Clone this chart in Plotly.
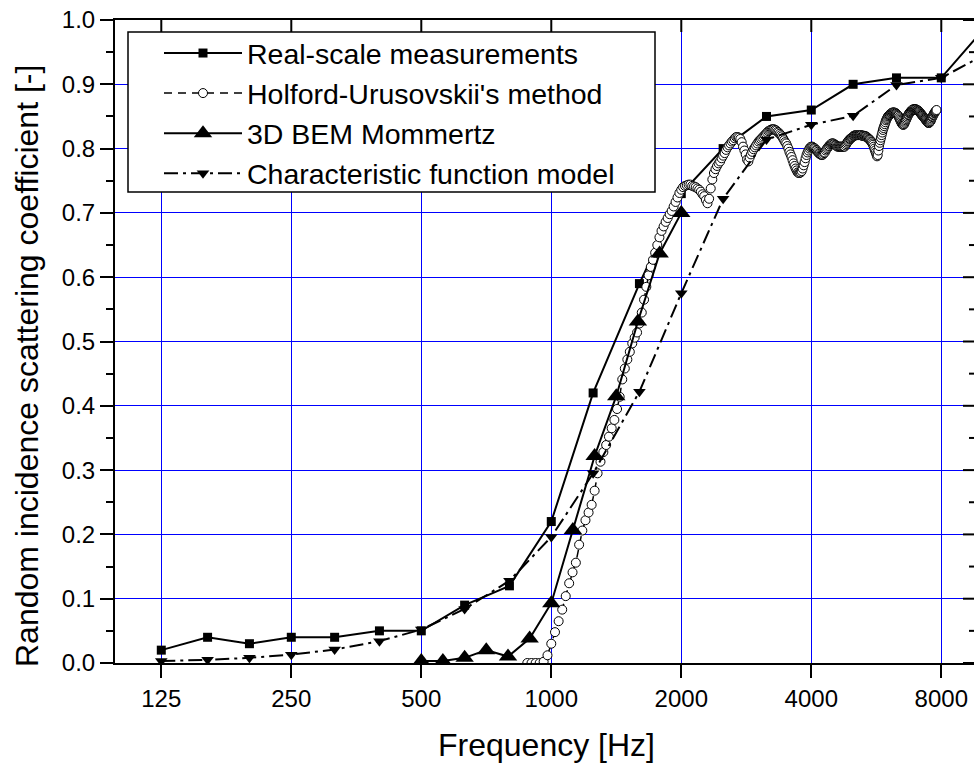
import math
import plotly.graph_objects as go

# ---------------- data ----------------
third_oct_freq = [125, 160, 200, 250, 315, 400, 500, 630, 800, 1000, 1250, 1600,
                  2000, 2500, 3150, 4000, 5000, 6300, 8000, 10000]
real_scale = [0.02, 0.04, 0.03, 0.04, 0.04, 0.05, 0.05, 0.09, 0.12, 0.22, 0.42, 0.59,
              0.73, 0.80, 0.85, 0.86, 0.90, 0.91, 0.91, 0.985]
char_model = [0.003, 0.005, 0.008, 0.013, 0.021, 0.034, 0.052, 0.084, 0.128, 0.196, 0.295, 0.422,
              0.575, 0.722, 0.814, 0.837, 0.851, 0.899, 0.91, 0.945]

bem_freq = [500, 561, 630, 707, 794, 891, 1000, 1122, 1260, 1414, 1587, 1782, 2000]
bem_vals = [0.003, 0.003, 0.008, 0.02, 0.01, 0.038, 0.093, 0.207, 0.322, 0.415, 0.531, 0.637, 0.70]

holford_freq = list(range(880, 7820, 20))
holford_vals = [
    0.000, 0.000, 0.000, 0.000, 0.002, 0.012, 0.030, 0.048, 0.065, 0.083,
    0.104, 0.124, 0.141, 0.156, 0.184, 0.206, 0.222, 0.234, 0.246, 0.268,
    0.295, 0.313, 0.328, 0.339, 0.352, 0.365, 0.378, 0.395, 0.414, 0.441,
    0.458, 0.472, 0.484, 0.497, 0.506, 0.514, 0.528, 0.545, 0.565, 0.585,
    0.603, 0.616, 0.627, 0.638, 0.650, 0.662, 0.672, 0.679, 0.686, 0.692,
    0.698, 0.703, 0.710, 0.717, 0.724, 0.731, 0.736, 0.740, 0.742, 0.743,
    0.744, 0.744, 0.742, 0.741, 0.740, 0.738, 0.736, 0.733, 0.729, 0.726,
    0.720, 0.715, 0.722, 0.738, 0.752, 0.762, 0.768, 0.773, 0.777, 0.780,
    0.785, 0.789, 0.793, 0.798, 0.802, 0.805, 0.808, 0.811, 0.813, 0.816,
    0.818, 0.818, 0.817, 0.815, 0.810, 0.803, 0.797, 0.791, 0.783, 0.780,
    0.786, 0.791, 0.795, 0.799, 0.802, 0.805, 0.808, 0.811, 0.813, 0.815,
    0.817, 0.819, 0.821, 0.823, 0.825, 0.827, 0.828, 0.829, 0.830, 0.830,
    0.830, 0.829, 0.828, 0.826, 0.825, 0.823, 0.821, 0.819, 0.816, 0.813,
    0.810, 0.808, 0.804, 0.800, 0.795, 0.791, 0.787, 0.782, 0.777, 0.773,
    0.769, 0.766, 0.763, 0.762, 0.762, 0.763, 0.765, 0.769, 0.774, 0.779,
    0.785, 0.790, 0.794, 0.797, 0.800, 0.802, 0.803, 0.803, 0.802, 0.801,
    0.800, 0.798, 0.797, 0.795, 0.793, 0.792, 0.791, 0.790, 0.790, 0.791,
    0.793, 0.794, 0.797, 0.799, 0.801, 0.803, 0.804, 0.806, 0.807, 0.808,
    0.808, 0.808, 0.807, 0.806, 0.805, 0.804, 0.803, 0.803, 0.803, 0.803,
    0.803, 0.803, 0.803, 0.803, 0.803, 0.803, 0.805, 0.807, 0.809, 0.811,
    0.812, 0.814, 0.815, 0.816, 0.817, 0.818, 0.819, 0.820, 0.820, 0.821,
    0.821, 0.821, 0.821, 0.821, 0.821, 0.821, 0.821, 0.821, 0.820, 0.820,
    0.820, 0.820, 0.819, 0.819, 0.819, 0.818, 0.817, 0.816, 0.815, 0.814,
    0.813, 0.811, 0.810, 0.808, 0.806, 0.803, 0.800, 0.797, 0.794, 0.791,
    0.788, 0.790, 0.797, 0.804, 0.809, 0.813, 0.817, 0.821, 0.825, 0.829,
    0.832, 0.835, 0.838, 0.841, 0.844, 0.846, 0.848, 0.850, 0.851, 0.852,
    0.853, 0.854, 0.855, 0.855, 0.856, 0.856, 0.856, 0.856, 0.856, 0.855,
    0.855, 0.854, 0.853, 0.852, 0.851, 0.849, 0.847, 0.845, 0.843, 0.841,
    0.839, 0.838, 0.837, 0.837, 0.838, 0.840, 0.842, 0.844, 0.846, 0.848,
    0.850, 0.852, 0.853, 0.855, 0.856, 0.857, 0.858, 0.859, 0.860, 0.860,
    0.861, 0.861, 0.861, 0.861, 0.861, 0.861, 0.861, 0.860, 0.860, 0.859,
    0.859, 0.858, 0.857, 0.856, 0.855, 0.854, 0.853, 0.852, 0.851, 0.850,
    0.849, 0.848, 0.847, 0.846, 0.845, 0.844, 0.843, 0.842, 0.841, 0.840,
    0.840, 0.840, 0.841, 0.842, 0.843, 0.845, 0.847, 0.849, 0.850, 0.852,
    0.853, 0.855, 0.856, 0.857, 0.858, 0.859, 0.860,
]
n_h = min(len(holford_freq), len(holford_vals))
holford_freq = holford_freq[:n_h]
holford_vals = holford_vals[:n_h]

x_tick_vals = [125, 250, 500, 1000, 2000, 4000, 8000]
x_tick_text = ["125", "250", "500", "1000", "2000", "4000", "8000"]
y_major = [round(0.1 * i, 2) for i in range(11)]
y_minor = [round(0.05 + 0.1 * i, 2) for i in range(10)]
x_range_hz = [97.66, 9525]

# ---------------- figure ----------------
FONT = "Liberation Sans, Arial, Helvetica, sans-serif"
W, H = 974, 769
PL, PT, PR, PB = 115, 20, 974, 663          # plot area in pixels
ML, MT, MR, MB = PL, PT, W - PR, H - PB
PW, PH = PR - PL, PB - PT
xr = [math.log10(x_range_hz[0]), math.log10(x_range_hz[1])]


def px(xpix):
    return (xpix - PL) / PW


def py(ypix):
    return (PB - ypix) / PH


fig = go.Figure()
fig.add_trace(go.Scatter(
    x=third_oct_freq, y=real_scale, name="Real-scale measurements",
    mode="lines+markers",
    line=dict(color="black", width=2),
    marker=dict(symbol="square", size=9, color="black"),
))
fig.add_trace(go.Scatter(
    x=holford_freq, y=holford_vals, name="Holford-Urusovskii's method",
    mode="lines+markers",
    line=dict(color="black", width=1.5, dash="8px,6px"),
    marker=dict(symbol="circle", size=9, color="white",
                line=dict(color="black", width=1)),
))
fig.add_trace(go.Scatter(
    x=bem_freq, y=bem_vals, name="3D BEM Mommertz",
    mode="lines+markers",
    line=dict(color="black", width=2),
    marker=dict(symbol="triangle-up", size=16, color="black"),
))
fig.add_trace(go.Scatter(
    x=third_oct_freq, y=char_model, name="Characteristic function model",
    mode="lines+markers",
    line=dict(color="black", width=2, dash="14px,5px,3px,5px"),
    marker=dict(symbol="triangle-down", size=11, color="black"),
))

shapes = []
# legend frame (opaque white box with black border)
shapes.append(dict(type="rect", xref="paper", yref="paper", layer="above",
                   x0=px(128), x1=px(655), y0=py(192), y1=py(32),
                   fillcolor="white", line=dict(color="black", width=1.5)))
# inward ticks on the top frame line
for f in x_tick_vals:
    shapes.append(dict(type="line", xref="x", yref="paper", layer="above",
                       x0=f, x1=f, y0=1, y1=1 - 12 / PH,
                       line=dict(color="black", width=2)))
# inward ticks on the right side
for v in y_major:
    shapes.append(dict(type="line", xref="paper", yref="y", layer="above",
                       x0=1, x1=1 - 11 / PW, y0=v, y1=v,
                       line=dict(color="black", width=2)))
for v in y_minor:
    shapes.append(dict(type="line", xref="paper", yref="y", layer="above",
                       x0=1, x1=1 - 5 / PW, y0=v, y1=v,
                       line=dict(color="black", width=2)))

fig.update_layout(
    template="none",
    width=W, height=H,
    margin=dict(l=ML, r=MR, t=MT, b=MB, autoexpand=False),
    paper_bgcolor="white", plot_bgcolor="white",
    font=dict(family=FONT, color="black", size=24),
    showlegend=True,
    legend=dict(
        x=px(159), y=py(28), xanchor="left", yanchor="top",
        bgcolor="rgba(0,0,0,0)", borderwidth=0,
        font=dict(family=FONT, size=28.5, color="black"),
        itemwidth=78, tracegroupgap=0,
    ),
    xaxis=dict(
        type="log", range=xr, automargin=False,
        tickvals=x_tick_vals, ticktext=x_tick_text,
        ticks="outside", ticklen=13, tickwidth=2, tickcolor="black",
        ticklabeloverflow="allow",
        showline=True, linecolor="black", linewidth=2, mirror=True,
        showgrid=True, gridcolor="#0000ff", gridwidth=1,
        zeroline=False, tickfont=dict(size=24, color="black"),
    ),
    yaxis=dict(
        range=[0, 1], tick0=0, dtick=0.1, tickformat=".1f", automargin=False,
        ticks="outside", ticklen=13, tickwidth=2, tickcolor="black",
        ticklabeloverflow="allow",
        minor=dict(dtick=0.05, ticks="outside", ticklen=7, tickwidth=2,
                   tickcolor="black", showgrid=False),
        showline=True, linecolor="black", linewidth=2,
        showgrid=True, gridcolor="#0000ff", gridwidth=1,
        zeroline=False, tickfont=dict(size=24, color="black"),
    ),
    shapes=shapes,
    annotations=[
        dict(text="Frequency [Hz]", xref="paper", yref="paper",
             x=px(546), y=py(745), xanchor="center", yanchor="middle",
             showarrow=False, font=dict(family=FONT, size=32, color="black")),
        dict(text="Random incidence scattering coefficient [-]",
             xref="paper", yref="paper", x=px(27), y=py(366),
             xanchor="center", yanchor="middle", textangle=-90,
             showarrow=False, font=dict(family=FONT, size=32, color="black")),
    ],
)

fig.write_html(
    "out.html",
    config={"displayModeBar": False},
    post_script="document.body.style.margin='0';document.body.style.overflow='hidden';",
)
